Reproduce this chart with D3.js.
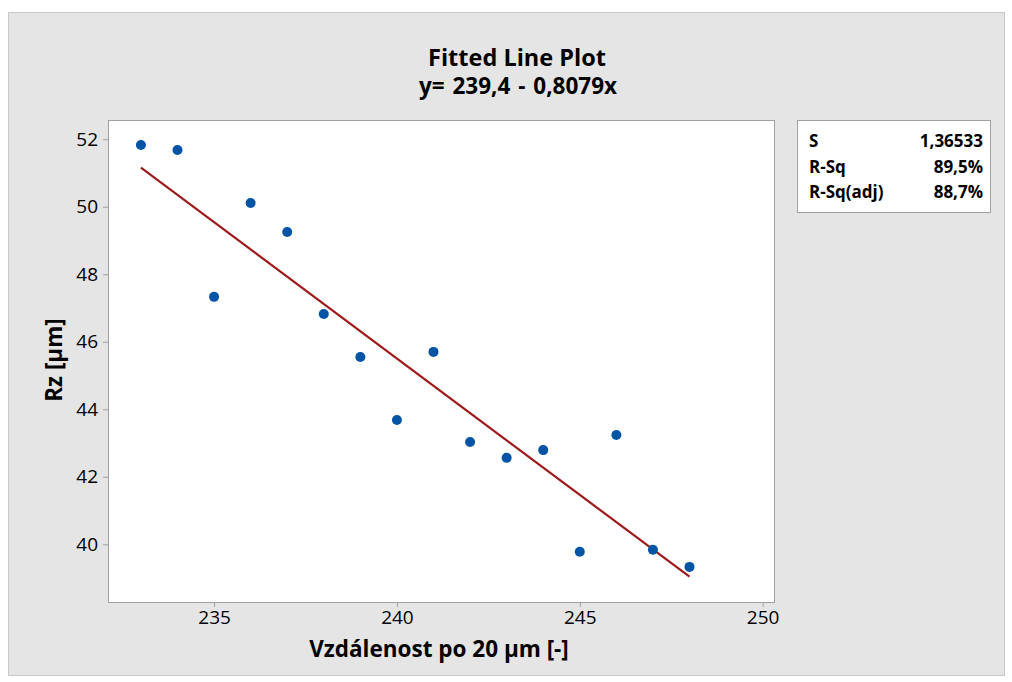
<!DOCTYPE html>
<html lang="en">
<head>
    <meta charset="UTF-8">
    <title>Fitted Line Plot</title>
    <script src="https://cdn.jsdelivr.net/npm/d3@7/dist/d3.min.js"></script>
    <style>
        body { margin: 0; background: #fff; }
        text { font-family: "Open Sans", "Noto Sans", sans-serif; fill: #000; }
    </style>
</head>
<body>
<script>
    const width = 1012, height = 682;

    // data
    const xValues = [233, 234, 235, 236, 237, 238, 239, 240, 241, 242, 243, 244, 245, 246, 247, 248];
    const yValues = [51.83, 51.68, 47.33, 50.11, 49.25, 46.82, 45.55, 43.68, 45.70, 43.03, 42.56, 42.79, 39.78, 43.24, 39.84, 39.33];
    const xTicks = [235, 240, 245, 250];
    const yTicks = [40, 42, 44, 46, 48, 50, 52];
    const fit = {intercept: 239.4, slope: -0.8079};
    const statLabels = ['S', 'R-Sq', 'R-Sq(adj)'];
    const statValues = ['1,36533', '89,5%', '88,7%'];

    const plot = {left: 108, right: 774, top: 120, bottom: 602};

    const x = d3.scaleLinear().domain([232.1, 250.31]).range([plot.left, plot.right]);
    const y = d3.scaleLinear().domain([38.29, 52.57]).range([plot.bottom, plot.top]);

    const svg = d3.select('body').append('svg')
        .attr('width', width)
        .attr('height', height);

    // outer panel
    svg.append('rect')
        .attr('x', 8.5).attr('y', 12.5)
        .attr('width', 996).attr('height', 663)
        .attr('fill', '#e5e5e5')
        .attr('stroke', '#c8c8c8');

    svg.append('rect')
        .attr('x', plot.left).attr('y', plot.top)
        .attr('width', plot.right - plot.left).attr('height', plot.bottom - plot.top)
        .attr('fill', '#fff');

    // axes
    const xAxis = svg.append('g')
        .attr('transform', `translate(0,${plot.bottom})`)
        .call(d3.axisBottom(x).tickValues(xTicks).tickSize(5).tickPadding(4));
    const yAxis = svg.append('g')
        .attr('transform', `translate(${plot.left},0)`)
        .call(d3.axisLeft(y).tickValues(yTicks).tickSize(5).tickPadding(5));

    [xAxis, yAxis].forEach(g => {
        g.select('.domain').remove();
        g.selectAll('line').attr('stroke', '#a0a0a0');
        g.selectAll('text').style('font-size', '19px').style('font-weight', 500);
    });

    svg.append('rect')
        .attr('x', plot.left + 0.5).attr('y', plot.top + 0.5)
        .attr('width', plot.right - plot.left).attr('height', plot.bottom - plot.top)
        .attr('fill', 'none')
        .attr('stroke', '#a0a0a0');

    // fitted line
    const lineX = d3.extent(xValues);
    svg.append('path')
        .datum(lineX.map(v => [v, fit.intercept + fit.slope * v]))
        .attr('d', d3.line().x(d => x(d[0])).y(d => y(d[1])))
        .attr('stroke', '#9e1a1a')
        .attr('stroke-width', 2.2)
        .attr('fill', 'none');

    // points
    svg.append('g').selectAll('circle')
        .data(xValues.map((v, i) => [v, yValues[i]]))
        .enter().append('circle')
        .attr('cx', d => x(d[0]))
        .attr('cy', d => y(d[1]))
        .attr('r', 5)
        .attr('fill', '#0054a6');

    // titles
    svg.append('text')
        .attr('x', 517).attr('y', 66)
        .attr('text-anchor', 'middle')
        .style('font-size', '23.5px').style('font-weight', 'bold')
        .text('Fitted Line Plot');
    svg.append('text')
        .attr('x', 518).attr('y', 94)
        .attr('text-anchor', 'middle')
        .style('font-size', '22.5px').style('font-weight', 'bold')
        .style('word-spacing', '2px')
        .text('y= 239,4 - 0,8079x');

    svg.append('text')
        .attr('x', 439).attr('y', 657)
        .attr('text-anchor', 'middle')
        .style('font-size', '22.5px').style('font-weight', 'bold')
        .text('Vzdálenost po 20 µm [-]');
    svg.append('text')
        .attr('transform', 'translate(62,360) rotate(-90)')
        .attr('text-anchor', 'middle')
        .style('font-size', '22.5px').style('font-weight', 'bold')
        .text('Rz [µm]');

    // stats box
    const box = svg.append('g');
    box.append('rect')
        .attr('x', 797.5).attr('y', 120.5)
        .attr('width', 193).attr('height', 92)
        .attr('fill', '#fff')
        .attr('stroke', '#a0a0a0');
    box.selectAll('.lab')
        .data(statLabels)
        .enter().append('text')
        .attr('x', 809)
        .attr('y', (d, i) => 147 + i * 25.5)
        .style('font-size', '17px').style('font-weight', 'bold')
        .text(d => d);
    box.selectAll('.val')
        .data(statValues)
        .enter().append('text')
        .attr('x', 983)
        .attr('y', (d, i) => 147 + i * 25.5)
        .attr('text-anchor', 'end')
        .style('font-size', '17px').style('font-weight', 'bold')
        .text(d => d);
</script>
</body>
</html>
